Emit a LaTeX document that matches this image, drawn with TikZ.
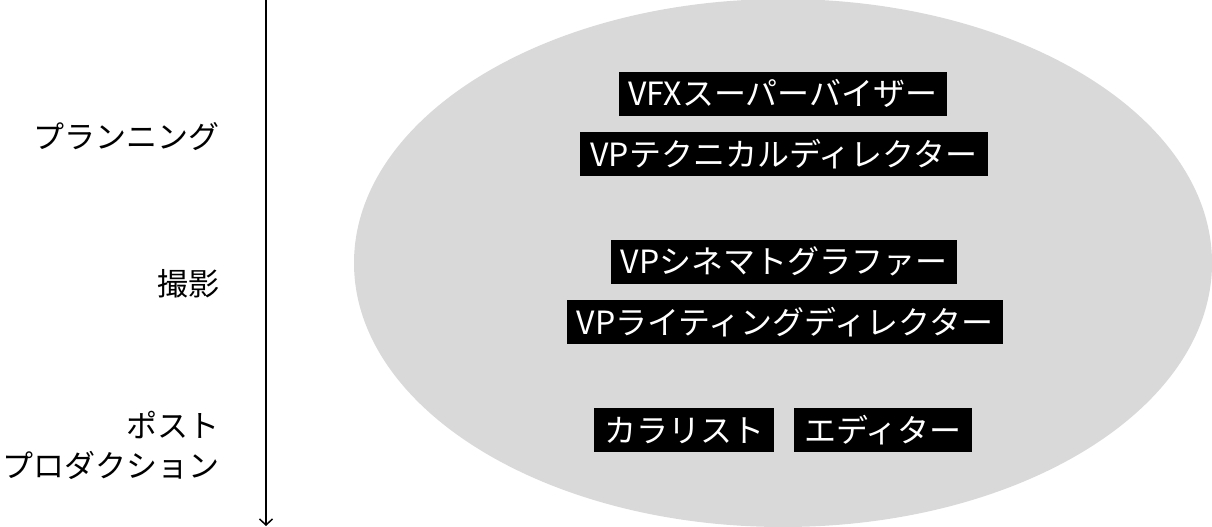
\documentclass[tikz,border=0pt]{standalone}
\usepackage{fontspec}
\setmainfont{Noto Sans CJK JP}
\usetikzlibrary{arrows.meta}
\definecolor{ellgray}{RGB}{217,217,217}
\tikzset{
  role/.style={fill=black, text=white, font=\fontsize{32}{32}\selectfont,
    inner xsep=10pt, inner ysep=6pt, text height=28pt, text depth=4pt},
  phase/.style={anchor=east, font=\fontsize{31}{40}\selectfont, align=right, inner sep=0pt},
  timeline/.style={line width=1.5pt, -{Straight Barb[length=6pt,width=13pt,line width=1.5pt]}}
}
\begin{document}
\begin{tikzpicture}[x=1pt,y=-1pt]
\useasboundingbox (0,0) rectangle (1212,527);
\fill[ellgray] (783,263) ellipse [x radius=429, y radius=264];
\coordinate (ttop) at (266,0);
\coordinate (tbot) at (266,526);
\draw[timeline] (ttop) -- (tbot);
\node[phase] (plan) at (220,137) {プランニング};
\node[phase] (shoot) at (220,284) {撮影};
\node[phase] (post) at (220,445) {ポスト\\プロダクション};
\node[role] (vfx) at (783,93.5) {VFXスーパーバイザー};
\node[role] (vptd) at (784,154) {VPテクニカルディレクター};
\node[role] (vpc) at (784,261.5) {VPシネマトグラファー};
\node[role] (vpl) at (785,322) {VPライティングディレクター};
\node[role] (col) at (684,430) {カラリスト};
\node[role] (edi) at (883,430) {エディター};
\end{tikzpicture}
\end{document}
